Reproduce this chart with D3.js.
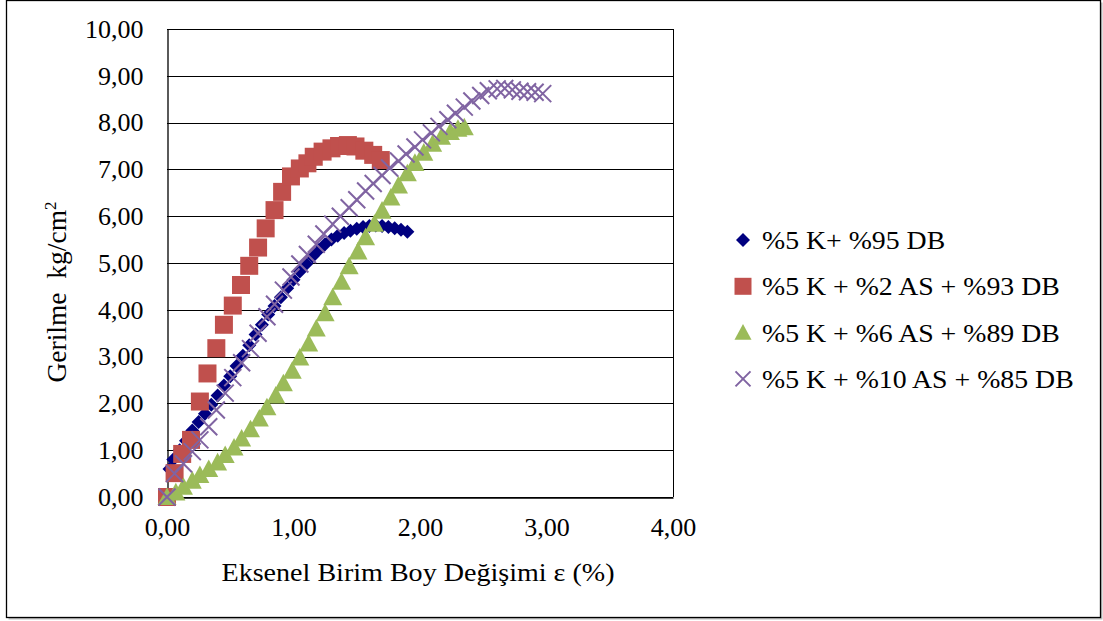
<!DOCTYPE html>
<html>
<head>
<meta charset="utf-8">
<script src="https://cdn.jsdelivr.net/npm/d3@7/dist/d3.min.js"></script>
<style>
  html, body { margin: 0; padding: 0; background: #fff; }
  svg text { font-family: "Liberation Serif", "Times New Roman", serif; fill: #000; }
</style>
</head>
<body>
<svg id="chart" width="1103" height="621"></svg>
<script>
// Axial strain (%) readings and stress (kg/cm2) for each mixture
const seriesNames = [
  "%5 K+ %95 DB",
  "%5 K + %2 AS + %93 DB",
  "%5 K + %6 AS + %89 DB",
  "%5 K + %10 AS + %85 DB"
];

const strainK95 = [0, 0.02, 0.05, 0.10, 0.15, 0.20, 0.25, 0.30, 0.35, 0.40, 0.45, 0.50, 0.55, 0.60, 0.65, 0.70, 0.75, 0.80, 0.85, 0.90,
  0.95, 1.00, 1.05, 1.10, 1.15, 1.20, 1.25, 1.30, 1.35, 1.40, 1.45, 1.50, 1.55, 1.60, 1.65, 1.70, 1.75, 1.80, 1.85, 1.90];
const stressK95 = [0, 0.60, 0.80, 1.00, 1.20, 1.42, 1.60, 1.78, 1.97, 2.17, 2.38, 2.58, 2.80, 3.02, 3.24, 3.47, 3.68, 3.90, 4.08, 4.27,
  4.46, 4.64, 4.82, 4.98, 5.14, 5.28, 5.40, 5.50, 5.58, 5.64, 5.69, 5.73, 5.77, 5.79, 5.80, 5.79, 5.77, 5.74, 5.71, 5.67];

const strainAS2 = [0, 0.06, 0.12, 0.19, 0.26, 0.32, 0.39, 0.45, 0.52, 0.585, 0.65, 0.72, 0.78, 0.85, 0.91, 0.98, 1.05, 1.11,
  1.16, 1.23, 1.30, 1.36, 1.43, 1.49, 1.56, 1.63, 1.69];
const stressAS2 = [0, 0.51, 0.92, 1.22, 2.04, 2.64, 3.18, 3.68, 4.09, 4.53, 4.94, 5.33, 5.74, 6.13, 6.52, 6.85, 7.02, 7.13,
  7.27, 7.38, 7.45, 7.50, 7.52, 7.49, 7.40, 7.31, 7.20];

const strainAS6 = [0, 0.07, 0.13, 0.20, 0.26, 0.33, 0.40, 0.46, 0.53, 0.59, 0.66, 0.73, 0.79, 0.86, 0.92, 0.99, 1.05, 1.12,
  1.18, 1.25, 1.31, 1.38, 1.44, 1.51, 1.57, 1.64, 1.70, 1.77, 1.83, 1.90, 1.96, 2.03, 2.10, 2.17, 2.24, 2.30, 2.35];
const stressAS6 = [0, 0.10, 0.22, 0.35, 0.47, 0.60, 0.74, 0.90, 1.06, 1.25, 1.45, 1.68, 1.92, 2.17, 2.43, 2.70, 2.98, 3.28,
  3.60, 3.93, 4.27, 4.60, 4.93, 5.25, 5.55, 5.84, 6.12, 6.40, 6.66, 6.92, 7.14, 7.36, 7.55, 7.70, 7.80, 7.87, 7.90];

const strainAS10 = [0, 0.06, 0.13, 0.20, 0.26, 0.33, 0.39, 0.46, 0.52, 0.59, 0.66, 0.72, 0.79, 0.85, 0.92, 0.98, 1.05, 1.11,
  1.18, 1.24, 1.31, 1.37, 1.44, 1.50, 1.57, 1.63, 1.70, 1.76, 1.83, 1.89, 1.96, 2.02, 2.09, 2.15, 2.22, 2.28, 2.35, 2.41,
  2.48, 2.54, 2.61, 2.67, 2.73, 2.79, 2.85, 2.91, 2.97];
const stressAS10 = [0, 0.50, 0.71, 0.97, 1.22, 1.50, 1.86, 2.22, 2.55, 2.87, 3.17, 3.50, 3.85, 4.12, 4.42, 4.70, 4.98, 5.18,
  5.40, 5.62, 5.83, 6.00, 6.18, 6.35, 6.54, 6.70, 6.87, 7.03, 7.18, 7.33, 7.48, 7.63, 7.78, 7.92, 8.06, 8.20, 8.33, 8.46,
  8.58, 8.68, 8.72, 8.73, 8.70, 8.67, 8.66, 8.65, 8.62];

const xTicks = [0, 1, 2, 3, 4];
const yTicks = [0, 1, 2, 3, 4, 5, 6, 7, 8, 9, 10];

const xTitle = "Eksenel Birim Boy Değişimi ε (%)";
const yTitle = "Gerilme  kg/cm";

const colors = ["#000080", "#C0504D", "#9BBB59", "#8064A2"];
const markerKinds = ["diamond", "square", "triangle", "cross"];

const series = [
  { name: seriesNames[0], xs: strainK95, ys: stressK95 },
  { name: seriesNames[1], xs: strainAS2, ys: stressAS2 },
  { name: seriesNames[2], xs: strainAS6, ys: stressAS6 },
  { name: seriesNames[3], xs: strainAS10, ys: stressAS10 }
].map((s, i) => ({
  ...s,
  color: colors[i],
  kind: markerKinds[i],
  points: s.xs.map((x, j) => ({ x, y: s.ys[j] }))
}));

const svg = d3.select("#chart");

// chart frame with a light drop shadow
svg.append("rect").attr("x", 8.5).attr("y", 2.5).attr("width", 1094).attr("height", 617)
  .attr("fill", "#bdbdbd");
svg.append("rect").attr("x", 6.5).attr("y", 0.5).attr("width", 1094).attr("height", 617)
  .attr("fill", "#fff").attr("stroke", "#000").attr("stroke-width", 1.3);

const plot = { left: 167, right: 673, top: 29, bottom: 497 };

const x = d3.scaleLinear().domain([0, 4]).range([plot.left, plot.right]);
const y = d3.scaleLinear().domain([0, 10]).range([plot.bottom, plot.top]);

const fmt = v => d3.format(".2f")(v).replace(".", ",");

// horizontal gridlines
svg.append("g")
  .selectAll("line")
  .data(yTicks)
  .join("line")
  .attr("x1", plot.left).attr("x2", plot.right)
  .attr("y1", d => Math.round(y(d)) + 0.5).attr("y2", d => Math.round(y(d)) + 0.5)
  .attr("stroke", "#000").attr("stroke-width", 1);

// right border of the plot area
svg.append("line")
  .attr("x1", plot.right + 0.5).attr("x2", plot.right + 0.5)
  .attr("y1", plot.top).attr("y2", plot.bottom)
  .attr("stroke", "#000").attr("stroke-width", 1);

// y axis
const yAxis = svg.append("g")
  .attr("transform", `translate(${plot.left + 0.5},0)`)
  .call(d3.axisLeft(y).tickValues(yTicks).tickSize(0).tickPadding(24).tickFormat(fmt));
yAxis.select(".domain").attr("stroke", "#000").attr("stroke-width", 1.3);
yAxis.selectAll("text").style("font-size", "26px").style("font-family", "Liberation Serif").attr("fill", "#000");

// x axis
const xAxis = svg.append("g")
  .attr("transform", `translate(0,${plot.bottom + 0.5})`)
  .call(d3.axisBottom(x).tickValues(xTicks).tickSize(0).tickPadding(20).tickFormat(fmt));
xAxis.select(".domain").attr("stroke", "#000").attr("stroke-width", 1.3);
xAxis.selectAll("text").style("font-size", "26px").style("font-family", "Liberation Serif").attr("fill", "#000");

// axis titles
svg.append("text")
  .attr("transform", `translate(${(plot.left + plot.right) / 2 - 2},581) scale(1.08,1)`)
  .attr("text-anchor", "middle")
  .style("font-size", "26px")
  .text(xTitle);

const yt = svg.append("text")
  .attr("transform", "translate(66,292) rotate(-90)")
  .attr("text-anchor", "middle")
  .style("font-size", "27.5px")
  .style("white-space", "pre");
yt.append("tspan").text(yTitle);
yt.append("tspan").attr("dy", -10).style("font-size", "17px").text("2");

// marker shapes
function markerPath(kind, s) {
  const h = s / 2;
  switch (kind) {
    case "diamond": return `M0,${-h}L${h},0L0,${h}L${-h},0Z`;
    case "square": return `M${-h},${-h}H${h}V${h}H${-h}Z`;
    case "triangle": return `M0,${-h}L${h},${h * 0.85}L${-h},${h * 0.85}Z`;
    case "cross": return `M${-h},${-h}L${h},${h}M${h},${-h}L${-h},${h}`;
  }
}
const markerSize = { diamond: 14, square: 18, triangle: 19, cross: 17 };

function drawMarker(sel, s) {
  const p = markerPath(s.kind, markerSize[s.kind]);
  if (s.kind === "cross") {
    sel.append("path").attr("d", p).attr("fill", "none")
      .attr("stroke", s.color).attr("stroke-width", 2);
  } else {
    sel.append("path").attr("d", p).attr("fill", s.color);
  }
}

// data marks
series.forEach(s => {
  svg.append("g")
    .selectAll("g")
    .data(s.points)
    .join("g")
    .attr("transform", d => `translate(${x(d.x)},${y(d.y)})`)
    .each(function () { drawMarker(d3.select(this), s); });
});

// legend
const legend = svg.append("g");
series.forEach((s, i) => {
  const row = legend.append("g").attr("transform", `translate(743,${240 + i * 46.3})`);
  const m = row.append("g");
  if (s.kind === "diamond") {
    m.append("path").attr("d", markerPath("diamond", 14)).attr("fill", s.color);
  } else if (s.kind === "square") {
    m.append("path").attr("d", markerPath("square", 17)).attr("fill", s.color);
  } else if (s.kind === "triangle") {
    m.append("path").attr("d", markerPath("triangle", 17)).attr("fill", s.color);
  } else {
    m.append("path").attr("d", markerPath("cross", 15)).attr("fill", "none")
      .attr("stroke", s.color).attr("stroke-width", 2);
  }
  row.append("text")
    .attr("transform", "translate(19,0) scale(1.07,1)")
    .attr("dy", "0.35em")
    .style("font-size", "26px")
    .text(s.name);
});
</script>
</body>
</html>
